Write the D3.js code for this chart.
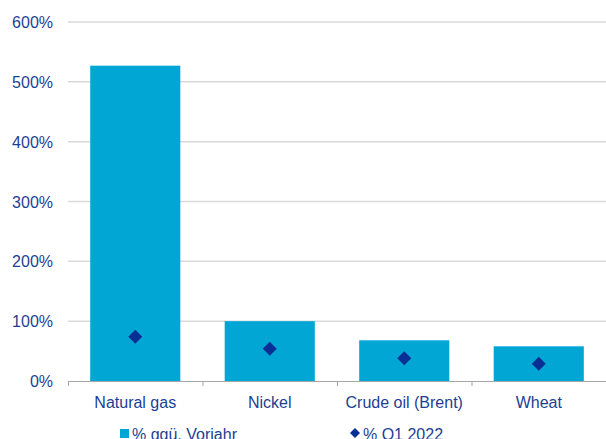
<!DOCTYPE html>
<html>
<head>
<meta charset="utf-8">
<script src="https://cdn.jsdelivr.net/npm/d3@7"></script>
<style>
  body { margin: 0; background: #fff; }
  svg { display: block; font-family: "Liberation Sans", Arial, sans-serif; }
</style>
</head>
<body>
<svg id="chart" width="606" height="439"></svg>
<script>
// data
const categories = ["Natural gas", "Nickel", "Crude oil (Brent)", "Wheat"];
const yoyValues = [527, 100, 68, 58];     // % ggü. Vorjahr
const q1Values = [74, 54, 38, 29];        // % Q1 2022
const yTicks = [0, 100, 200, 300, 400, 500, 600];
const legendLabels = ["% ggü. Vorjahr", "% Q1 2022"];

const textColor = "#1b3f94";
const barColor = "#02a6d5";
const diamondColor = "#0a2f94";

const plotLeft = 68, plotRight = 606, plotTop = 22, plotBottom = 381;

const svg = d3.select("#chart");

const x = d3.scaleBand()
    .domain(categories)
    .range([plotLeft, plotRight])
    .paddingInner(0.33)
    .paddingOuter(0.165);

const xTicks = d3.scaleBand().domain(categories).range([plotLeft, plotRight]);

const y = d3.scaleLinear().domain([0, 600]).range([plotBottom, plotTop]);

// gridlines
svg.append("g")
    .selectAll("line")
    .data(yTicks.filter(d => d > 0))
    .enter()
    .append("line")
    .attr("x1", plotLeft)
    .attr("x2", plotRight)
    .attr("y1", d => y(d))
    .attr("y2", d => y(d))
    .attr("stroke", "#d9d9d9")
    .attr("stroke-width", 1.5);

// y labels
svg.append("g")
    .selectAll("text")
    .data(yTicks)
    .enter()
    .append("text")
    .attr("x", 53)
    .attr("y", d => y(d) + 6)
    .attr("text-anchor", "end")
    .style("font-size", "16px")
    .style("fill", textColor)
    .text(d => d + "%");

// bars
svg.append("g")
    .selectAll("rect")
    .data(categories)
    .enter()
    .append("rect")
    .attr("x", d => x(d))
    .attr("y", (d, i) => y(yoyValues[i]))
    .attr("width", x.bandwidth())
    .attr("height", (d, i) => y(0) - y(yoyValues[i]))
    .attr("fill", barColor);

// x axis line + ticks
svg.append("line")
    .attr("x1", plotLeft).attr("x2", plotRight)
    .attr("y1", plotBottom + 0.5).attr("y2", plotBottom + 0.5)
    .attr("stroke", "#a6a6a6")
    .attr("stroke-width", 1.2);

svg.append("g")
    .selectAll("line")
    .data(categories)
    .enter()
    .append("line")
    .attr("x1", d => xTicks(d) + 0.5)
    .attr("x2", d => xTicks(d) + 0.5)
    .attr("y1", plotBottom)
    .attr("y2", plotBottom + 5)
    .attr("stroke", "#a6a6a6");

// diamonds
svg.append("g")
    .selectAll("path")
    .data(categories)
    .enter()
    .append("path")
    .attr("d", d3.symbol().type(d3.symbolSquare).size(98))
    .attr("transform", (d, i) => `translate(${x(d) + x.bandwidth() / 2}, ${y(q1Values[i])}) rotate(45)`)
    .attr("fill", diamondColor);

// category labels
svg.append("g")
    .selectAll("text")
    .data(categories)
    .enter()
    .append("text")
    .attr("x", d => x(d) + x.bandwidth() / 2)
    .attr("y", 408)
    .attr("text-anchor", "middle")
    .style("font-size", "16px")
    .style("fill", textColor)
    .text(d => d);

// legend
const legend = svg.append("g");
legend.append("rect")
    .attr("x", 120).attr("y", 429)
    .attr("width", 9).attr("height", 9)
    .attr("fill", barColor);
legend.append("text")
    .attr("x", 132).attr("y", 440)
    .style("font-size", "16px")
    .style("fill", textColor)
    .text(legendLabels[0]);
legend.append("path")
    .attr("d", d3.symbol().type(d3.symbolSquare).size(50))
    .attr("transform", "translate(355, 433) rotate(45)")
    .attr("fill", diamondColor);
legend.append("text")
    .attr("x", 363).attr("y", 440)
    .style("font-size", "16px")
    .style("fill", textColor)
    .text(legendLabels[1]);
</script>
</body>
</html>
